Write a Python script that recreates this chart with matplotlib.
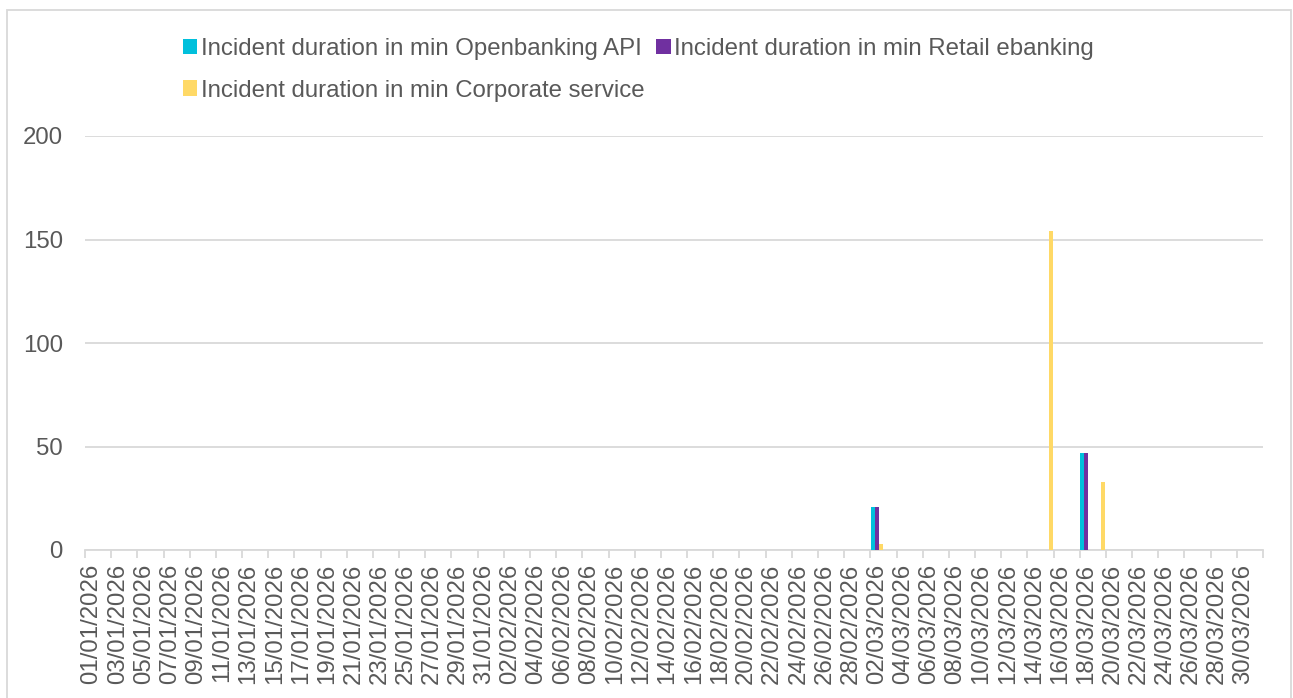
import pandas as pd
import numpy as np
import matplotlib
matplotlib.use("Agg")
import matplotlib.pyplot as plt
from matplotlib.patches import Patch, Rectangle

plt.rcParams['font.family'] = ['Liberation Sans', 'DejaVu Sans']

# Data
start_date = "2026-01-01"
end_date = "2026-03-31"

series_names = [
    "Incident duration in min Openbanking API",
    "Incident duration in min Retail ebanking",
    "Incident duration in min Corporate service",
]
series_colors = ["#00C0DC", "#7030A0", "#FFD966"]

openbanking_dates = ["2026-03-02", "2026-03-18"]
openbanking_values = [21, 47]
retail_dates = ["2026-03-02", "2026-03-18"]
retail_values = [21, 47]
corporate_dates = ["2026-03-02", "2026-03-15", "2026-03-19"]
corporate_values = [3, 154, 33]

y_ticks = [0, 50, 100, 150, 200]

days = pd.date_range(start_date, end_date, freq="D")
n_days = len(days)

def full_series(dates, values):
    s = pd.Series(values, index=pd.to_datetime(dates))
    return s.reindex(days, fill_value=0).values

all_values = [
    full_series(openbanking_dates, openbanking_values),
    full_series(retail_dates, retail_values),
    full_series(corporate_dates, corporate_values),
]

grey_text = "#595959"
grid_col = "#D9D9D9"
fs = 17.3

fig = plt.figure(figsize=(12.93, 6.98), dpi=100)
ax = fig.add_axes([85 / 1293, 148 / 698, 1178 / 1293, 414 / 698])

x = np.arange(n_days)
bar_w = 0.3
offsets = [0.2, 0.5, 0.8]
for vals, col, off in zip(all_values, series_colors, offsets):
    mask = vals > 0
    ax.bar(x[mask] + off, vals[mask], width=bar_w, color=col, zorder=3)

ax.set_xlim(0, n_days)
ax.set_ylim(0, 200)
ax.set_yticks(y_ticks)
ax.yaxis.grid(True, color=grid_col, linewidth=1.3, zorder=0)
ax.tick_params(axis='y', length=0, pad=16, labelsize=fs, labelcolor=grey_text)

# tick marks at slot boundaries, labels centred in the slot
ax.set_xticks(np.arange(0, n_days + 1, 2))
ax.set_xticklabels([])
ax.tick_params(axis='x', which='major', length=6, width=1.3, color=grid_col)
label_idx = np.arange(0, n_days, 2)
ax.set_xticks(label_idx + 0.5, minor=True)
ax.set_xticklabels([days[i].strftime("%d/%m/%Y") for i in label_idx],
                   minor=True, rotation=90)
ax.tick_params(axis='x', which='minor', length=0, pad=10, labelsize=fs,
               labelcolor=grey_text)

for side in ["top", "right", "left"]:
    ax.spines[side].set_visible(False)
ax.spines["bottom"].set_color(grid_col)
ax.spines["bottom"].set_linewidth(1.3)

# legend, row-wise order: A B / C
handles = [Patch(facecolor=c, edgecolor='none') for c in series_colors]
order = [0, 2, 1]
fig.legend([handles[i] for i in order], [series_names[i] for i in order],
           ncol=2, loc="upper left", bbox_to_anchor=(173 / 1293, 1 - 28 / 698),
           frameon=False, fontsize=fs, labelcolor=grey_text,
           handlelength=0.6, handleheight=0.6, handletextpad=0.15,
           columnspacing=0.5, labelspacing=0.83, borderaxespad=0)

# chart border
fig.patches.append(Rectangle((7 / 1293, -0.05), 1284 / 1293, 0.05 + (698 - 10) / 698,
                             transform=fig.transFigure, fill=False,
                             edgecolor=grid_col, linewidth=1.3))

fig.savefig("out.png", dpi=100)
